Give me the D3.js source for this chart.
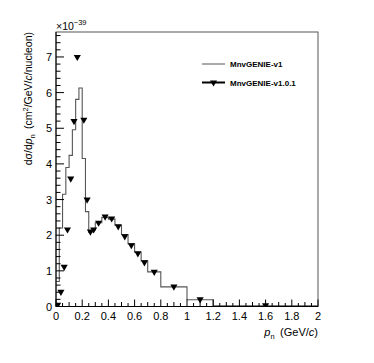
<!DOCTYPE html>
<html>
<head>
<meta charset="utf-8">
<script src="https://cdn.jsdelivr.net/npm/d3@7"></script>
<style>
body{margin:0;background:#fff;}
text{font-family:"Liberation Sans",Arial,sans-serif;fill:#000;}
</style>
</head>
<body>
<svg id="chart" width="374" height="363"></svg>
<script>
// MnvGENIE-v1 histogram (bin edges + contents, x1e-39)
var binEdges = [0,0.025,0.05,0.075,0.1,0.125,0.15,0.175,0.2,0.225,0.25,0.275,0.3,0.35,0.4,0.45,0.5,0.55,0.6,0.65,0.7,0.8,1.0,1.2,2.0]
var v1Values = [0.7,2.2,3.15,3.9,4.24,4.96,5.81,6.13,4.15,2.66,2.08,2.15,2.35,2.5,2.45,2.28,2.02,1.76,1.52,1.28,0.97,0.55,0.19,0.02]

// MnvGENIE-v1.0.1 markers
var v101X = [0.0125,0.0375,0.0625,0.0875,0.1125,0.1375,0.1625,0.2125,0.2375,0.2625,0.2875,0.325,0.375,0.425,0.475,0.525,0.575,0.625,0.675,0.75,0.9,1.1,1.6]
var v101Y = [0.05,0.41,1.11,2.16,3.59,5.2,7.0,5.24,3.0,2.1,2.16,2.35,2.52,2.47,2.25,1.97,1.72,1.49,1.24,0.97,0.56,0.2,0.03]

var xTicks = [0,0.2,0.4,0.6,0.8,1,1.2,1.4,1.6,1.8,2]
var yTicks = [0,1,2,3,4,5,6,7]
var seriesNames = ["MnvGENIE-v1","MnvGENIE-v1.0.1"]

var L = 56, R = 318, T = 32, B = 306.5

var svg = d3.select("#chart")
var x = d3.scaleLinear().domain([0,2]).range([L,R])
var y = d3.scaleLinear().domain([0,7.7]).range([B,T])

svg.append("defs").append("clipPath").attr("id","plotclip")
	.append("rect").attr("x",L).attr("y",T).attr("width",R-L).attr("height",B-T)

// frame
svg.append("rect")
	.attr("x",L).attr("y",T).attr("width",R-L).attr("height",B-T)
	.attr("fill","none").attr("stroke","#555").attr("stroke-width",1)

// histogram
var histPts = []
v1Values.forEach(function(v,i){ histPts.push([binEdges[i],v]) })
histPts.push([binEdges[binEdges.length-1], v1Values[v1Values.length-1]])
var step = d3.line()
	.x(function(d){ return x(d[0]) })
	.y(function(d){ return y(d[1]) })
	.curve(d3.curveStepAfter)
svg.append("path")
	.attr("d",step(histPts))
	.attr("fill","none")
	.attr("stroke","#555")
	.attr("stroke-width",1.1)
	.attr("clip-path","url(#plotclip)")

// markers
var tri = d3.symbol().type(d3.symbolTriangle).size(22)
svg.append("g").attr("clip-path","url(#plotclip)")
	.selectAll("path")
	.data(v101X.map(function(d,i){ return [d,v101Y[i]] }))
	.enter().append("path")
	.attr("d",tri)
	.attr("transform",function(d){ return "translate(" + x(d[0]) + "," + y(d[1]) + ") rotate(180)" })
	.attr("fill","#000")

// x axis
var xAxis = svg.append("g")
xAxis.append("line").attr("x1",L).attr("x2",R).attr("y1",B).attr("y2",B).attr("stroke","#000")
xAxis.selectAll(".minor").data(d3.range(0,2.0001,0.05)).enter()
	.append("line")
	.attr("x1",function(d){ return x(d) }).attr("x2",function(d){ return x(d) })
	.attr("y1",B).attr("y2",function(d,i){ return i % 4 == 0 ? B-7 : (i % 2 == 0 ? B-4.5 : B-3.5) })
	.attr("stroke","#000")
xAxis.selectAll("text").data(xTicks).enter()
	.append("text")
	.attr("x",function(d){ return x(d) })
	.attr("y",B+13)
	.attr("text-anchor","middle")
	.style("font-size","11px")
	.text(function(d){ return d })

// y axis
var yAxis = svg.append("g")
yAxis.append("line").attr("x1",L).attr("x2",L).attr("y1",B).attr("y2",T).attr("stroke","#000")
yAxis.selectAll(".minor").data(d3.range(0,7.70001,0.2)).enter()
	.append("line")
	.attr("y1",function(d){ return y(d) }).attr("y2",function(d){ return y(d) })
	.attr("x1",L).attr("x2",function(d,i){ return i % 5 == 0 ? L+8 : L+4.5 })
	.attr("stroke","#000")
yAxis.selectAll("text").data(yTicks).enter()
	.append("text")
	.attr("x",L-4)
	.attr("y",function(d){ return y(d) + 4 })
	.attr("text-anchor","end")
	.style("font-size","11px")
	.text(function(d){ return d })

// exponent
var ex = svg.append("text").attr("x",L).attr("y",T-2).style("font-size","10.5px")
ex.append("tspan").text("\u00d710")
ex.append("tspan").attr("dy",-5).style("font-size","7.5px").text("\u221239")

// y title
var yt = svg.append("text")
	.attr("transform","translate(32," + T + ") rotate(-90)")
	.attr("text-anchor","end")
	.style("font-size","10.5px")
yt.append("tspan").text("d\u03c3/d")
yt.append("tspan").style("font-style","italic").text("p")
yt.append("tspan").attr("dy",3).style("font-size","7.5px").text("n")
yt.append("tspan").attr("dy",-3).text("\u2002(cm")
yt.append("tspan").attr("dy",-4).style("font-size","7.5px").text("2")
yt.append("tspan").attr("dy",4).text("/GeV/")
yt.append("tspan").style("font-style","italic").text("c")
yt.append("tspan").text("/nucleon)")

// x title
var xt = svg.append("text")
	.attr("x",R).attr("y",336)
	.attr("text-anchor","end")
	.style("font-size","11px")
xt.append("tspan").style("font-style","italic").text("p")
xt.append("tspan").attr("dy",3).style("font-size","7.5px").text("n")
xt.append("tspan").attr("dy",-3).text("\u2002(GeV/")
xt.append("tspan").style("font-style","italic").text("c")
xt.append("tspan").text(")")

// legend
var leg = svg.append("g")
leg.append("line").attr("x1",202).attr("x2",225).attr("y1",64).attr("y2",64).attr("stroke","#555").attr("stroke-width",1)
leg.append("line").attr("x1",202).attr("x2",225).attr("y1",82.5).attr("y2",82.5).attr("stroke","#000").attr("stroke-width",2)
leg.append("path").attr("d",tri).attr("transform","translate(213.5,82.5) rotate(180)").attr("fill","#000")
leg.selectAll("text").data(seriesNames).enter()
	.append("text")
	.attr("x",230)
	.attr("y",function(d,i){ return 67 + i*18.5 })
	.style("font-size","8px")
	.style("font-weight","bold")
	.text(function(d){ return d })
</script>
</body>
</html>
